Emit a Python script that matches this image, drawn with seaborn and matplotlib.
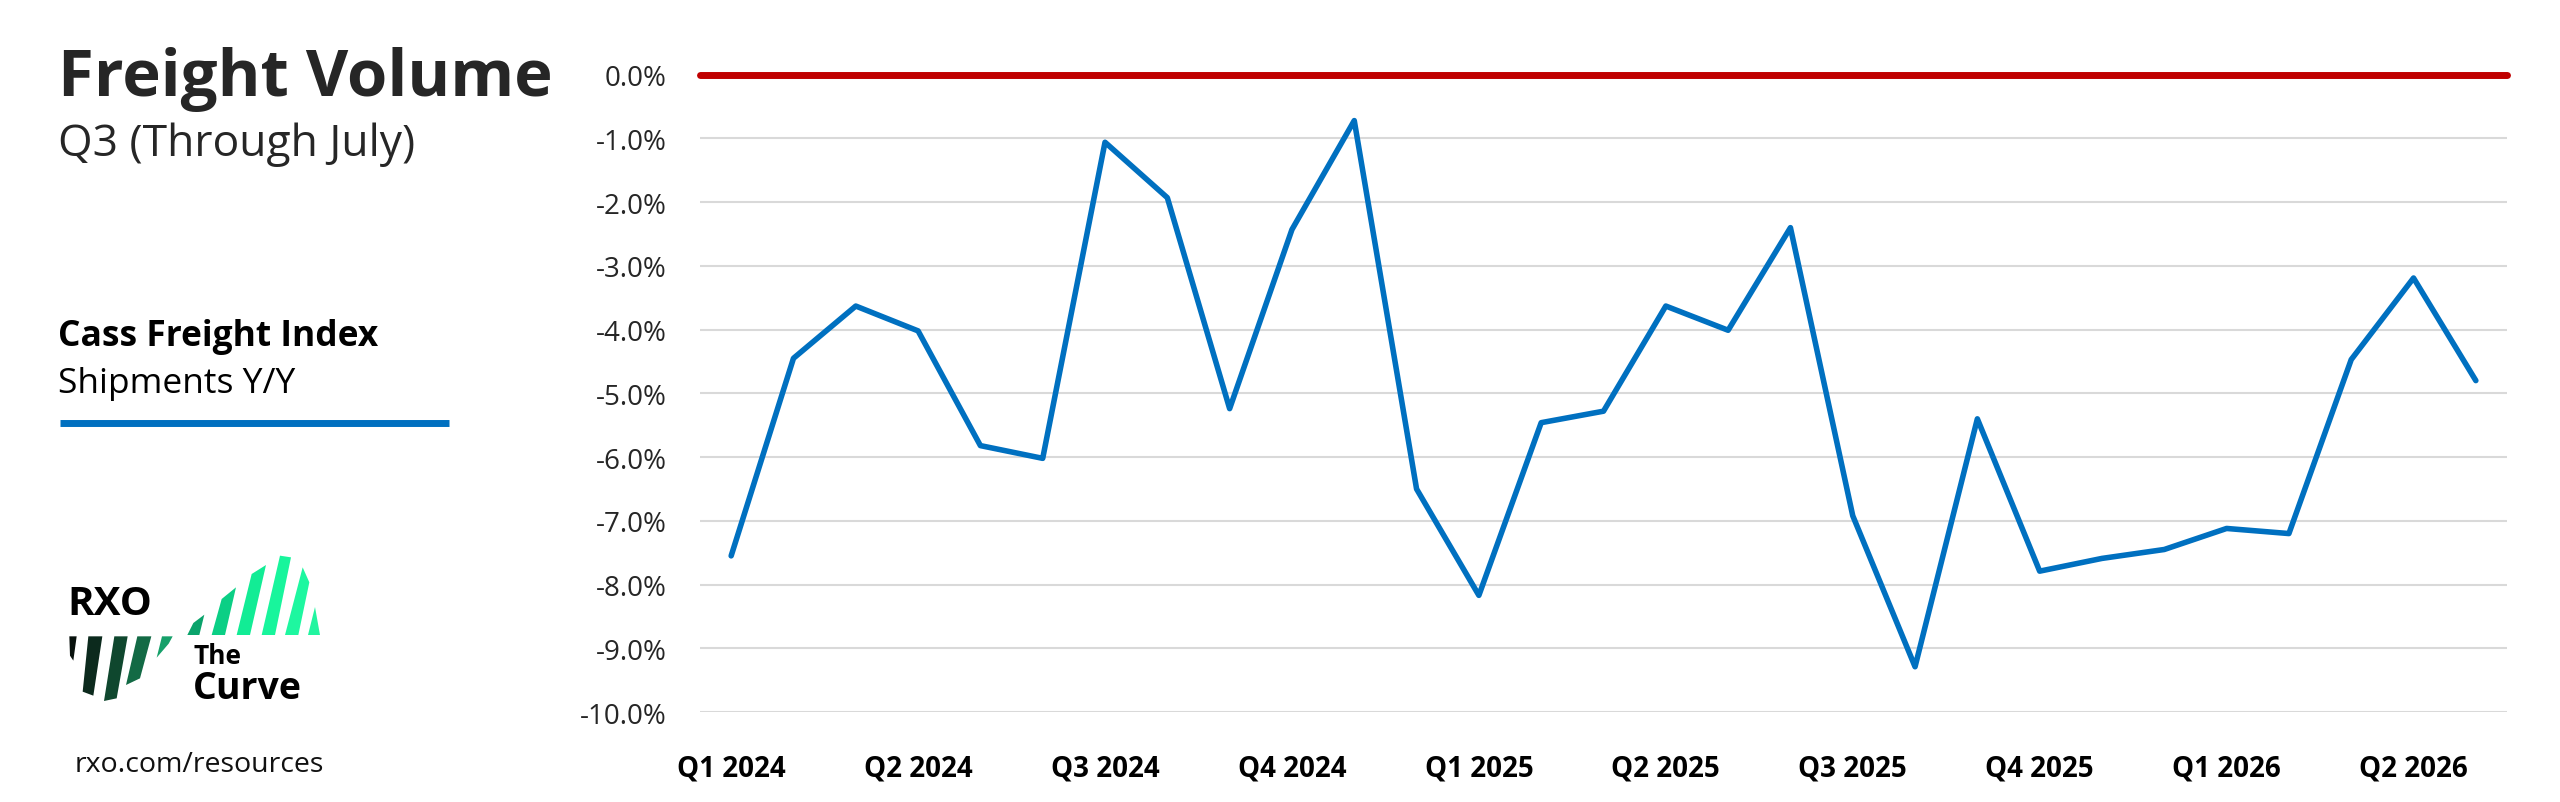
import numpy as np
import pandas as pd
import matplotlib
matplotlib.use("Agg")
import matplotlib.pyplot as plt
from matplotlib.patches import Polygon
from matplotlib.ticker import FuncFormatter
import seaborn as sns

# Style
sns.set_style("white")
plt.rcParams['font.family'] = ['Open Sans', 'DejaVu Sans']

# -----------------------------
# DATA
# -----------------------------

# monthly Y/Y change in Cass shipments (%), Jan 2024 .. May 2026
shipments_yoy = [-7.55, -4.45, -3.63, -4.02, -5.82, -6.02, -1.06, -1.93, -5.24,
                 -2.43, -0.72, -6.50, -8.17, -5.46, -5.28, -3.63, -4.01, -2.40,
                 -6.92, -9.29, -5.40, -7.79, -7.59, -7.45, -7.12, -7.20, -4.47,
                 -3.19, -4.80]
quarter_labels = ["Q1 2024", "Q2 2024", "Q3 2024", "Q4 2024", "Q1 2025",
                  "Q2 2025", "Q3 2025", "Q4 2025", "Q1 2026", "Q2 2026"]
y_ticks = list(range(-10, 1))

df = pd.DataFrame({"month": range(len(shipments_yoy)), "yoy": shipments_yoy})

W, H = 2560, 803
fig = plt.figure(figsize=(W / 100, H / 100), dpi=100)

# -----------------------------
# LEFT PANEL (titles, legend, logo) in pixel coords
# -----------------------------

side = fig.add_axes([0, 0, 1, 1])
side.set_xlim(0, W)
side.set_ylim(H, 0)
side.axis("off")

side.text(58, 96, "Freight Volume", fontsize=47, fontweight="bold", color="#262626", va="baseline")
side.text(58, 156, "Q3 (Through July)", fontsize=32, color="#262626", va="baseline")
side.text(58, 346, "Cass Freight Index", fontsize=25.5, fontweight="bold", color="#000000", va="baseline")
side.text(58, 393, "Shipments Y/Y", fontsize=25.5, color="#000000", va="baseline")
side.plot([60, 449], [424, 424], color="#0070C0", lw=5, solid_capstyle="butt")

side.text(67, 615, "RXO", fontsize=29, fontweight="bold", color="#000000", va="baseline")
side.text(194, 664, "The", fontsize=19, fontweight="bold", color="#000000", va="baseline")
side.text(193, 699, "Curve", fontsize=27, fontweight="bold", color="#000000", va="baseline")
side.text(75, 772, "rxo.com/resources", fontsize=20.5, color="#111111", va="baseline")

# logo stripes (zoomed pixel coords -> figure pixels)
dark = [
    ([(28, 262), (50, 262), (40, 335), (30, 320)], "#08110d"),
    ([(85, 262), (127, 262), (100, 440), (68, 428)], "#0c2a1d"),
    ([(163, 262), (203, 262), (170, 448), (132, 456)], "#0f472e"),
    ([(232, 262), (274, 262), (240, 388), (198, 408)], "#136a45"),
    ([(306, 262), (338, 262), (326, 284), (290, 326)], "#16a06a"),
]
for pts, c in dark:
    side.add_patch(Polygon([(60 + x / 3, 550 + y / 3) for x, y in pts], closed=True, color=c, lw=0))

light = [
    ([(22, 258), (58, 258), (73, 197), (40, 222)], "#0aa36b"),
    ([(95, 258), (135, 258), (168, 115), (125, 150)], "#0bcf85"),
    ([(170, 258), (210, 258), (258, 48), (215, 75)], "#12ec95"),
    ([(245, 258), (285, 258), (333, 25), (300, 20)], "#18f59c"),
    ([(315, 258), (355, 258), (388, 100), (368, 55)], "#1ef7a0"),
    ([(384, 258), (420, 258), (405, 174)], "#22f5a0"),
]
for pts, c in light:
    side.add_patch(Polygon([(180 + x / 3, 550 + y / 3) for x, y in pts], closed=True, color=c, lw=0))

# -----------------------------
# LINE CHART
# -----------------------------

ax = fig.add_axes([700 / W, 1 - 713 / H, (2507 - 700) / W, (713 - 75.7) / H])
sns.lineplot(data=df, x="month", y="yoy", color="#0070C0", lw=4, ax=ax, zorder=4)
ax.axhline(0, color="#C00000", lw=5, zorder=3, clip_on=False)

ax.set_xlim(-0.5, len(shipments_yoy) - 0.5)
ax.set_ylim(-10, 0)
ax.set_xticks(range(0, len(shipments_yoy), 3))
ax.set_xticklabels(quarter_labels, fontsize=20, fontweight="bold", color="#000000")
ax.set_yticks(y_ticks)
ax.yaxis.set_major_formatter(FuncFormatter(lambda v, _: f"{v + 0:.1f}%"))
for lab in ax.get_yticklabels():
    lab.set_fontsize(20)
    lab.set_color("#262626")
ax.tick_params(axis="y", length=0, pad=24)
ax.tick_params(axis="x", length=0, pad=30)
ax.grid(axis="y", color="#D9D9D9", lw=1.5)
ax.grid(axis="x", visible=False)
ax.set_xlabel("")
ax.set_ylabel("")
for s in ax.spines.values():
    s.set_visible(False)

fig.savefig("out.png", dpi=100)
